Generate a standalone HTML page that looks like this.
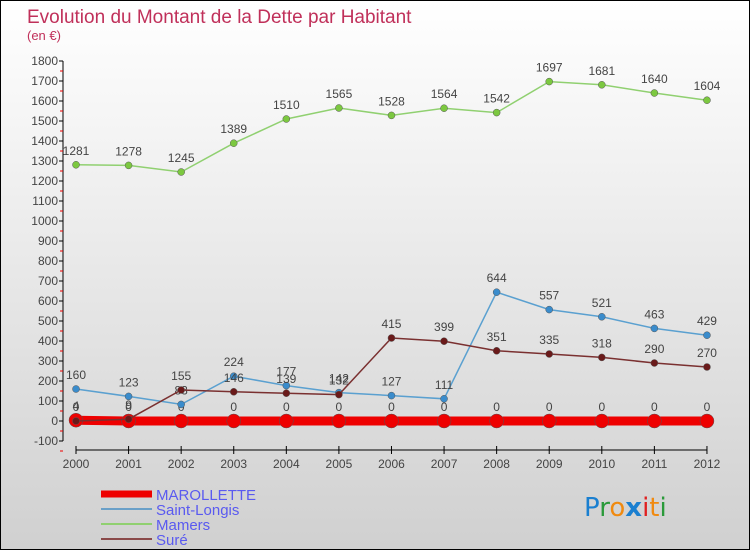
<!DOCTYPE html>
<html><head><meta charset="utf-8"><style>
body{margin:0;}
#c{width:748px;height:548px;border:1px solid #000;background:linear-gradient(#ffffff,#f6f6f6 20%,#d0d0d0);position:relative;font-family:"Liberation Sans",sans-serif;}
svg{position:absolute;left:0;top:0;}
</style></head><body>
<div id="c">
<svg id="s" width="748" height="548">
<text x="26" y="22" font-size="19" fill="#c0305a" font-weight="normal">Evolution du Montant de la Dette par Habitant</text>
<text x="26" y="39" font-size="13" fill="#c0305a">(en €)</text>
<g id="g"></g>
<text x="583" y="515" font-size="26" font-family="DejaVu Sans"><tspan fill="#1a7fd0">P</tspan><tspan fill="#2a9a3a">r</tspan><tspan fill="#f08a10">o</tspan><tspan fill="#1a7fd0" font-weight="bold">x</tspan><tspan fill="#e02020">i</tspan><tspan fill="#f08a10">t</tspan><tspan fill="#2a9a3a">i</tspan></text>
</svg></div>
<script>
const years=[2000,2001,2002,2003,2004,2005,2006,2007,2008,2009,2010,2011,2012];
const yTicks=[-100,0,100,200,300,400,500,600,700,800,900,1000,1100,1200,1300,1400,1500,1600,1700,1800];
const marollette=[4,0,0,0,0,0,0,0,0,0,0,0,0];
const saintLongis=[160,123,83,224,177,142,127,111,644,557,521,463,429];
const mamers=[1281,1278,1245,1389,1510,1565,1528,1564,1542,1697,1681,1640,1604];
const sure=[0,9,155,146,139,132,415,399,351,335,318,290,270];
const NS="http://www.w3.org/2000/svg";
const g=document.getElementById('g');
const X=i=>75+i*52.58;
const Y=v=>420-v*0.2;
function mk(t,a,p){const e=document.createElementNS(NS,t);for(const k in a)e.setAttribute(k,a[k]);(p||g).appendChild(e);return e;}
let ax=mk('line',{x1:62,y1:60,x2:62,y2:440,stroke:'#000'});


yTicks.forEach(v=>{
 const y=Y(v);
 mk('line',{x1:58,y1:y,x2:62,y2:y,stroke:'#000'});
 mk('line',{x1:59,y1:y+10,x2:62,y2:y+10,stroke:'#e00'});
 const t=mk('text',{x:57,y:y+4,'font-size':12,fill:'#444','text-anchor':'end'});
 t.textContent=v;
 
 
});
let xa=mk('line',{x1:75,y1:449,x2:X(12),y2:449,stroke:'#000'});


years.forEach((yr,i)=>{
 mk('line',{x1:X(i),y1:445,x2:X(i),y2:453,stroke:'#000'});
 const t=mk('text',{x:X(i),y:467,'font-size':12,fill:'#444','text-anchor':'middle'});
 t.textContent=yr;
 
 
});
function series(name,data,color,w,r,dot){
 const pts=data.map((v,i)=>X(i)+','+Y(v)).join(' ');
 const l=mk('polyline',{points:pts,fill:'none',stroke:color,'stroke-width':w});
 
 
 data.forEach((v,i)=>{
  const c=mk('circle',{cx:X(i),cy:Y(v),r:r,fill:dot,stroke:'#555','stroke-width':0.5});
  
  
  const t=mk('text',{x:X(i),y:Y(v)-10,'font-size':12,fill:'#444','text-anchor':'middle'});
  t.textContent=v;
  
  
 });
}
series('marollette',marollette,'#ee0000',9,7,'#ee0000');
series('saint-longis',saintLongis,'#5aa0d0',1.5,3.5,'#3a8ccc');
series('mamers',mamers,'#90d070',1.5,3.5,'#7cc840');
series('sure',sure,'#7a3030',1.5,3.5,'#6a1a1a');
const legend=[['MAROLLETTE','#ee0000',7],['Saint-Longis','#6aa0c8',2],['Mamers','#90d070',2],['Suré','#8a4a4a',2]];
legend.forEach((L,i)=>{
 const y=493+i*15;
 const l=mk('line',{x1:100,y1:y,x2:151,y2:y,stroke:L[1],'stroke-width':L[2]});
 
 
 const t=mk('text',{x:155,y:y+6,'font-size':15,fill:'#5a5af0'});
 t.textContent=L[0];
 
 
});
</script>
</body></html>
